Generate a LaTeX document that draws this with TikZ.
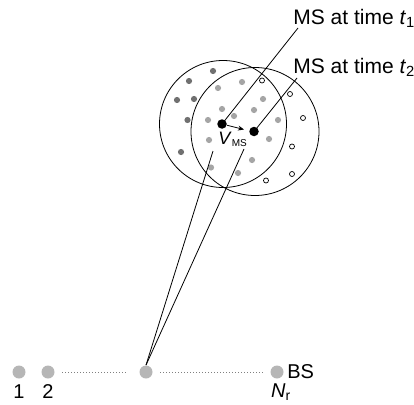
\documentclass[tikz,border=0pt]{standalone}
\usepackage{fontspec}
\setmainfont{Liberation Sans}
\usetikzlibrary{arrows.meta}

\definecolor{dgry}{RGB}{112, 112, 112}
\definecolor{lgry}{RGB}{165, 165, 165}
\definecolor{agry}{RGB}{182, 182, 182}

\begin{document}
\begin{tikzpicture}[x=1pt, y=-1pt, line width=0.8pt,
		ant/.style={circle, fill=agry, inner sep=0pt, minimum size=13pt},
		msdot/.style={circle, fill=black, inner sep=0pt, minimum size=9.5pt},
		lab/.style={font=\fontsize{21}{24}\selectfont, inner sep=0pt, anchor=base west},
		num/.style={font=\fontsize{20}{22}\selectfont, inner sep=0pt}]
			\useasboundingbox (0,0) rectangle (414,404);

			% --- Scatterer rings ---
			\draw (223,124) circle (63.5pt);
			\draw (255,131.5) circle (64pt);

			% scatterers
			\foreach \x/\y in {213/71, 189/81, 177/100, 194/99, 187.5/120, 181/152} {
					\fill[dgry] (\x,\y) circle (3.1pt);
				}
			\foreach \x/\y in {242/82, 218/88, 263/99, 222/109, 254/110, 234/116, 208/120,
					278/120, 209/140, 269/139, 252/160, 211/167.5, 238/173} {
					\fill[lgry] (\x,\y) circle (3.1pt);
				}
			\foreach \x/\y in {262/80.5, 290/94, 303/118, 292/146.5, 292/174, 266/180.5} {
					\draw[fill=white, line width=0.7pt] (\x,\y) circle (2.5pt);
				}

			% --- Mobile station ---
			\node[msdot] (ms1) at (222,124) {};
			\node[msdot] (ms2) at (254,131.5) {};
			\draw[-{Stealth[length=6pt, width=5pt]}] (ms1) -- (244,129.5);
			\node[anchor=base west, inner sep=0pt] (vms) at (218,144)
				{\fontsize{18}{20}\selectfont\textit{V}\textsubscript{\fontsize{10}{11}\selectfont MS}};

			\node[lab] (t1) at (293,24.3) {MS at time \textit{t}\textsubscript{1}};
			\node[lab] (t2) at (293,73.3) {MS at time \textit{t}\textsubscript{2}};
			\coordinate (e1) at (298,28);
			\coordinate (e2) at (297,78);
			\draw (ms1.center) -- (e1);
			\draw (ms2.center) -- (e2);

			% --- Array at the BS ---
			\node[ant] (a1) at (19,372) {};
			\node[ant] (a2) at (48,372) {};
			\node[ant] (am) at (146,372) {};
			\node[ant] (ar) at (277,372) {};
			\draw[gray, dash pattern=on 0.8pt off 2.2pt] ([xshift=7.5pt]a2.east) -- ([xshift=-12.5pt]am.west);
			\draw[gray, dash pattern=on 0.8pt off 2.2pt] ([xshift=7.5pt]am.east) -- ([xshift=-7.5pt]ar.west);

			\node[num] (l1) at (19,391.5) {1};
			\node[num] (l2) at (48,391.5) {2};
			\node[num] (lr) at (281,392.5) {\textit{N}\textsubscript{r}};
			\node[num, anchor=west] (bs) at (287,372) {BS};

			% paths to the array
			\coordinate (u1) at (213,151);
			\coordinate (u2) at (244,149);
			\draw (am.north) -- (u1);
			\draw (am.north) -- (u2);

		\end{tikzpicture}
\end{document}
